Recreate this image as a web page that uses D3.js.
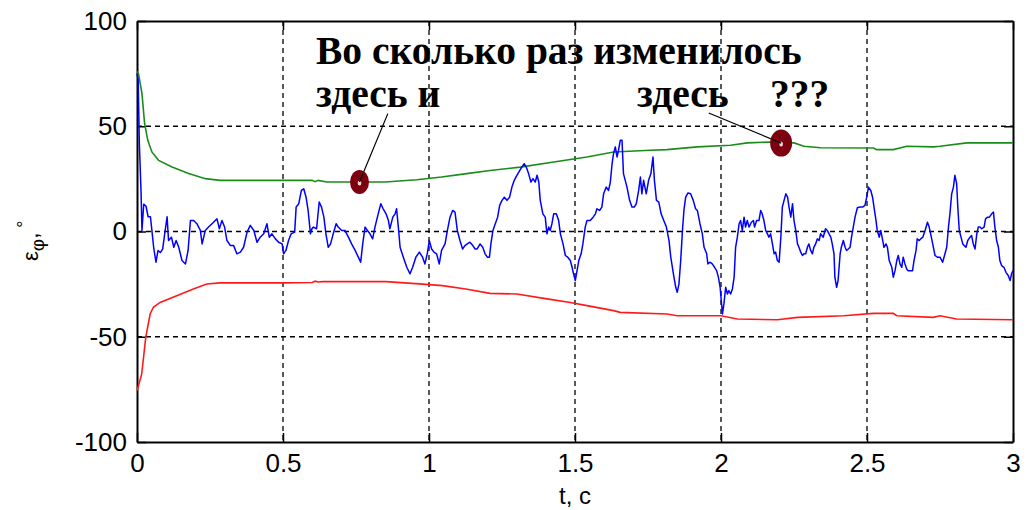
<!DOCTYPE html>
<html><head><meta charset="utf-8">
<script src="https://cdn.jsdelivr.net/npm/d3@7"></script>
<style>html,body{margin:0;padding:0;background:#fff;}svg{display:block;}</style>
</head><body>
<svg id="chart" width="1028" height="510"></svg>
<script>
// ---------------- data ----------------
const xTicks = [0, 0.5, 1, 1.5, 2, 2.5, 3];
const xTickLabels = ["0", "0.5", "1", "1.5", "2", "2.5", "3"];
const yTicks = [-100, -50, 0, 50, 100];
const yTickLabels = ["-100", "-50", "0", "50", "100"];
const xLabel = "t, c";
const annotLine1 = "Во сколько раз изменилось";
const annotLine2a = "здесь и";
const annotLine2b = "здесь";
const annotLine2c = "???";

// blue: error signal (t, value)
const blueSeries = [[0,75],[0.004,72],[0.008,42],[0.014,18],[0.017,0.5],[0.023,13],[0.031,12],[0.038,7],[0.046,7],[0.051,0.5],[0.057,-7.5],[0.065,-14.6],[0.072,-9],[0.080,-10],[0.088,-8.3],[0.095,-1],[0.103,7],[0.108,-4.3],[0.118,-2.7],[0.126,-7.5],[0.134,-4.3],[0.143,-7.5],[0.154,-13.8],[0.166,-15.4],[0.175,-9],[0.183,5.2],[0.194,5.2],[0.205,3.7],[0.217,0.5],[0.223,-5.9],[0.234,0.5],[0.245,2.1],[0.257,3.7],[0.268,5.2],[0.274,6],[0.282,1.3],[0.291,5.2],[0.300,2.1],[0.308,-4.3],[0.320,-6.7],[0.331,-6.7],[0.342,-10.6],[0.354,-9.8],[0.365,-7.5],[0.377,-0.3],[0.388,2.9],[0.400,0.5],[0.411,-5.1],[0.422,-2.7],[0.434,-1.1],[0.445,3.7],[0.453,-2.7],[0.462,-1.1],[0.474,-3.5],[0.485,-5.1],[0.497,-5.9],[0.502,-10.6],[0.510,-9],[0.519,-4.3],[0.528,-1.1],[0.540,-0.3],[0.545,11.6],[0.554,13.2],[0.563,19.5],[0.571,20.3],[0.579,16.3],[0.586,10],[0.594,-1.1],[0.599,1.3],
[0.604,2.1],[0.615,1.3],[0.624,14],[0.632,11.6],[0.640,6.8],[0.647,-1.1],[0.655,-7.5],[0.663,-5.9],[0.672,-1.1],[0.682,3.7],[0.689,2.1],[0.701,0.5],[0.712,0.5],[0.724,-2.7],[0.735,-5.9],[0.747,-9],[0.758,-12.2],[0.766,-14.6],[0.773,-5.9],[0.781,2.1],[0.789,0.5],[0.798,-1.1],[0.807,-3.5],[0.815,2.1],[0.826,8.4],[0.835,13.2],[0.843,10.8],[0.853,8.4],[0.861,5.2],[0.866,1.3],[0.876,6.8],[0.884,8.4],[0.889,10.8],[0.895,2.1],[0.901,-7.5],[0.912,-12.2],[0.924,-17],[0.935,-20.1],[0.944,-17],[0.955,-12.2],[0.967,-9.8],[0.978,-12.2],[0.986,-15.4],[0.994,-10.6],[1.001,-4.3],[1.009,-8.3],[1.017,-9.8],[1.026,-10.6],[1.035,-15.4],[1.043,-9],[1.055,-5.9],[1.063,0.5],[1.072,6.8],[1.081,10],[1.089,9.2],[1.097,0.5],[1.106,-4.3],[1.115,-8.3],[1.123,-6.7],[1.131,-5.9],[1.140,-5.1],[1.150,-6.7],[1.158,-8.3],[1.165,-8.3],[1.175,-5.9],[1.184,-7.5],[1.192,-10.6],[1.200,-12.2],[1.207,-12.2],
[1.212,-5.9],[1.219,0.5],[1.227,3.7],[1.235,6.8],[1.242,12.4],[1.250,14.8],[1.258,16.3],[1.267,14.8],[1.276,16.3],[1.284,21.1],[1.292,24.3],[1.301,26.7],[1.311,29],[1.318,30.6],[1.326,32.2],[1.333,30.6],[1.341,27.5],[1.349,23.5],[1.356,25.1],[1.364,23.5],[1.370,26.7],[1.376,23.5],[1.381,14.8],[1.390,8.4],[1.398,6.8],[1.404,-1.1],[1.410,2.1],[1.415,0.5],[1.421,3.7],[1.427,8.4],[1.436,8.4],[1.444,5.2],[1.450,-1.1],[1.459,-5.9],[1.467,-11.4],[1.475,-12.2],[1.484,-13.8],[1.490,-17],[1.495,-20.1],[1.501,-23.3],[1.507,-18.6],[1.513,-13.8],[1.521,-10.6],[1.527,-5.9],[1.535,2.1],[1.541,5.2],[1.552,5.2],[1.562,6.8],[1.570,8.4],[1.575,10.8],[1.584,10],[1.592,11.6],[1.598,17.9],[1.607,21.1],[1.615,19.5],[1.621,23.5],[1.627,32.2],[1.632,37],[1.638,40.2],[1.644,35.4],[1.649,38.6],[1.655,43.3],[1.661,43.3],[1.666,27.5],[1.672,24.3],[1.678,21.1],[1.687,14.8],[1.695,11.6],[1.703,11.6],[1.710,13.2],[1.718,19.5],[1.724,25.9],[1.729,17.9],[1.735,24.3],[1.744,17.9],[1.752,24.3],[1.760,27.5],[1.767,35.4],[1.772,24.3],[1.779,14.8],[1.787,14],[1.795,8.4],[1.804,5.2],
[1.813,2.1],[1.822,-4.3],[1.828,-12.2],[1.837,-20.1],[1.845,-26.5],[1.850,-28.9],[1.856,-24.9],[1.862,-13.8],[1.868,0.5],[1.873,10],[1.879,16.3],[1.887,18.3],[1.896,17.9],[1.905,14.8],[1.913,10.8],[1.919,10],[1.928,3.7],[1.936,-1.1],[1.942,-7.5],[1.951,-10.6],[1.955,-15.4],[1.962,-14.6],[1.970,-15.4],[1.978,-17],[1.985,-18.6],[1.991,-21.7],[1.997,-26.5],[2.001,-32.9],[2.005,-39.2],[2.010,-34.4],[2.016,-26.5],[2.022,-29.7],[2.027,-28.1],[2.033,-29.7],[2.039,-27.3],[2.045,-21.7],[2.050,-7.5],[2.056,-2.7],[2.062,3.7],[2.067,5.2],[2.073,0.5],[2.079,6.8],[2.084,2.1],[2.090,5.2],[2.096,2.1],[2.104,4.4],[2.111,5.2],[2.115,2.1],[2.122,5.2],[2.130,5.2],[2.136,10],[2.141,8.4],[2.147,5.2],[2.153,0.5],[2.159,-1.1],[2.164,-2.7],[2.170,-1.1],[2.176,-5.9],[2.182,-10.6],[2.187,-9.8],[2.193,-13.8],[2.199,-14.6],[2.205,-2.7],[2.210,11.6],[2.216,14.8],[2.222,17.9],[2.228,16.3],[2.233,11.6],[2.239,6.8],[2.245,13.2],[2.250,5.2],[2.256,0.5],[2.262,-5.9],[2.267,-7.5],[2.273,-9.8],[2.279,-11.4],[2.284,-10.6],[2.290,-10.6],[2.296,-7.5],[2.301,-5.9],[2.307,-9],[2.313,-10.6],[2.318,-7.5],[2.324,-5.9],[2.330,-3.5],[2.336,-4.3],[2.341,-1.1],[2.350,-2.7],[2.358,1.3],[2.364,0.5],[2.370,-1.1],[2.376,-2.7],[2.381,-5.9],[2.387,-10.6],[2.390,-21.7],[2.396,-26.5],[2.401,-23.3],[2.408,-10.6],[2.412,-7.5],[2.419,-4.3],
[2.425,-7.5],[2.430,-9],[2.436,-8.3],[2.442,-7.5],[2.447,-2.7],[2.453,2.1],[2.459,6.8],[2.467,11.3],[2.476,11.6],[2.485,11.6],[2.493,12.4],[2.499,16.3],[2.505,21.1],[2.513,19.5],[2.519,16.3],[2.524,11.6],[2.531,5.2],[2.535,0.5],[2.542,-2.7],[2.547,0.5],[2.554,-4.3],[2.558,-7.5],[2.565,-5.9],[2.570,-7.5],[2.576,-13.8],[2.585,-17],[2.590,-21.7],[2.596,-18.6],[2.602,-13.8],[2.607,-11.4],[2.613,-15.4],[2.619,-17],[2.624,-12.2],[2.630,-15.4],[2.636,-17.8],[2.641,-18.6],[2.656,-18.6],[2.661,-13.8],[2.668,-9],[2.672,-3.5],[2.679,-4.3],[2.684,-3.5],[2.691,-2.7],[2.699,0.5],[2.707,4.4],[2.713,2.1],[2.718,-1.1],[2.725,-5.9],[2.733,-11.4],[2.741,-12.2],[2.750,-12.2],[2.759,-14.6],[2.767,-10.6],[2.773,-7.5],[2.779,2.1],[2.784,8.4],[2.790,17.9],[2.796,21.1],[2.801,26.7],[2.807,22.7],[2.811,11.6],[2.816,0.5],[2.822,-2.7],[2.828,-5.9],[2.833,-6.7],[2.839,-7.5],[2.845,-4.3],[2.853,-2.7],[2.858,-1.9],[2.864,-5.9],[2.870,-8.3],[2.876,-1.1],[2.881,2.1],[2.887,2.1],[2.893,1.3],[2.901,2.1],[2.906,6],[2.912,6.8],[2.919,6.8],[2.927,8.4],[2.933,9.2],[2.938,2.1],[2.944,-4.3],[2.950,-7.5],[2.955,-13.8],[2.961,-16.2],[2.969,-17],[2.976,-19.4],[2.984,-21],[2.990,-23.3],[2.995,-20.1],[3.0,-18.6]];

// green: upper bound
const greenSeries = [[0,76],[0.005,75],[0.017,65.5],[0.026,51.3],[0.037,43.3],[0.051,37.8],[0.074,33.8],[0.120,30.6],[0.177,27.5],[0.234,25.1],[0.285,24.3],[0.5,24.3],[0.60,24.3],[0.61,23.7],[0.62,24.3],[0.65,23.5],[0.85,23.5],[0.958,24.6],[1.043,25.9],[1.129,27.5],[1.209,29],[1.313,30.6],[1.427,33],[1.541,35.4],[1.632,37.8],[1.758,38.6],[1.815,38.9],[1.919,40.2],[2.033,41],[2.090,42.1],[2.170,42.5],[2.250,42.1],[2.284,40.5],[2.341,39.8],[2.522,39.7],[2.533,38.9],[2.590,38.9],[2.636,40.5],[2.727,40.2],[2.750,40.5],[2.842,42.1],[3.0,42.1]];

// red: lower bound
const redSeries = [[0,-75.7],[0.016,-67.8],[0.030,-50.3],[0.045,-39.2],[0.056,-36],[0.079,-33.7],[0.136,-30.5],[0.193,-27.3],[0.239,-24.9],[0.284,-24.4],[0.501,-24.4],[0.60,-24.2],[0.61,-23.6],[0.62,-24.0],[0.638,-23.8],[0.853,-23.8],[0.967,-24.9],[1.046,-25.7],[1.126,-27.3],[1.209,-29.4],[1.301,-29.7],[1.404,-32],[1.484,-33.7],[1.541,-35.2],[1.632,-37.6],[1.655,-38.4],[1.815,-39.2],[1.850,-40],[2.0,-40],[2.056,-41.6],[2.193,-41.9],[2.262,-40.8],[2.421,-40],[2.522,-38.9],[2.590,-38.9],[2.602,-40],[2.727,-40.8],[2.750,-40],[2.807,-41.6],[3.0,-41.9]];

// annotation markers (t, value) and leader-line starts (t, value)
const markerPoints = [[0.762, 23.5], [2.206, 42]];
const leaderStarts = [[0.859, 56.0], [1.958, 56.3]];

// ---------------- drawing ----------------
const svg = d3.select("#chart");
const L = 137, R = 1013, T = 21, B = 442;
const x = d3.scaleLinear().domain([0, 3]).range([L, R]);
const y = d3.scaleLinear().domain([-100, 100]).range([B, T]);

const fontSans = "Arial, 'Liberation Sans', sans-serif";
const fontSerif = "'Times New Roman', 'Liberation Serif', serif";

// grid
const grid = svg.append("g");
grid.selectAll("line.vg").data(xTicks.filter(d => d > 0 && d < 3)).join("line")
  .attr("x1", d => x(d)).attr("x2", d => x(d)).attr("y1", T).attr("y2", B)
  .attr("stroke", "#000").attr("stroke-width", 1.3).attr("stroke-dasharray", "5,4");
grid.selectAll("line.hg").data(yTicks.filter(d => d > -100 && d < 100)).join("line")
  .attr("x1", L).attr("x2", R).attr("y1", d => y(d)).attr("y2", d => y(d))
  .attr("stroke", "#000").attr("stroke-width", 1.3).attr("stroke-dasharray", "5,4");

// axes via d3 with inner ticks
const axB = d3.axisBottom(x).tickValues(xTicks).tickFormat((d, i) => xTickLabels[i]).tickSizeInner(-9).tickSizeOuter(0).tickPadding(12);
const axT = d3.axisTop(x).tickValues(xTicks).tickFormat("").tickSizeInner(-9).tickSizeOuter(0);
const axLft = d3.axisLeft(y).tickValues(yTicks).tickFormat((d, i) => yTickLabels[i]).tickSizeInner(-9).tickSizeOuter(0).tickPadding(10);
const axRgt = d3.axisRight(y).tickValues(yTicks).tickFormat("").tickSizeInner(-9).tickSizeOuter(0);

function styleAxis(g) {
  g.select(".domain").attr("stroke", "#000").attr("stroke-width", 2);
  g.selectAll(".tick line").attr("stroke", "#000").attr("stroke-width", 1.5);
  g.selectAll(".tick text").attr("fill", "#000").style("font-family", fontSans).style("font-size", "26px");
}
svg.append("g").attr("transform", `translate(0,${B})`).call(axB).call(styleAxis)
  .selectAll(".tick text").attr("dy", "0.71em");
svg.append("g").attr("transform", `translate(0,${T})`).call(axT).call(styleAxis);
svg.append("g").attr("transform", `translate(${L},0)`).call(axLft).call(styleAxis);
svg.append("g").attr("transform", `translate(${R},0)`).call(axRgt).call(styleAxis);

// series
const line = d3.line().x(d => x(d[0])).y(d => y(d[1]));
svg.append("path").datum(greenSeries).attr("d", line).attr("fill", "none").attr("stroke", "#1a8c1a").attr("stroke-width", 1.6);
svg.append("path").datum(redSeries).attr("d", line).attr("fill", "none").attr("stroke", "#ff1a1a").attr("stroke-width", 1.6);
svg.append("path").datum(blueSeries).attr("d", line).attr("fill", "none").attr("stroke", "#0000ff").attr("stroke-width", 1.5).attr("stroke-linejoin", "round");

// annotations
const ann = svg.append("g");
ann.selectAll("line.lead").data(markerPoints).join("line")
  .attr("x1", (d, i) => x(leaderStarts[i][0])).attr("y1", (d, i) => y(leaderStarts[i][1]))
  .attr("x2", d => x(d[0])).attr("y2", d => y(d[1]))
  .attr("stroke", "#000").attr("stroke-width", 1.2);
const rx = [9.5, 11], ry = [12, 13.5];
ann.selectAll("ellipse.mk").data(markerPoints).join("ellipse")
  .attr("cx", d => x(d[0])).attr("cy", d => y(d[1]))
  .attr("rx", (d, i) => rx[i]).attr("ry", (d, i) => ry[i])
  .attr("fill", "#7d0010");
ann.selectAll("ellipse.dot").data(markerPoints).join("ellipse")
  .attr("cx", d => x(d[0])).attr("cy", d => y(d[1]) + 1)
  .attr("rx", 1.8).attr("ry", 2.5).attr("fill", "#f3d6d6");
ann.selectAll("line.tip").data(markerPoints).join("line")
  .attr("x1", (d, i) => { const s = leaderStarts[i]; return x(d[0]) + (x(s[0]) - x(d[0])) * 0.12; })
  .attr("y1", (d, i) => { const s = leaderStarts[i]; return y(d[1]) + (y(s[1]) - y(d[1])) * 0.12; })
  .attr("x2", d => x(d[0])).attr("y2", d => y(d[1]))
  .attr("stroke", "#000").attr("stroke-width", 1.2);

const tStyle = t => t.attr("fill", "#000").style("font-family", fontSerif).style("font-weight", "bold").style("font-size", "39.5px");
ann.append("text").attr("x", 316).attr("y", 64).text(annotLine1).call(tStyle);
ann.append("text").attr("x", 316).attr("y", 107).text(annotLine2a).call(tStyle);
ann.append("text").attr("x", 637).attr("y", 107).text(annotLine2b).call(tStyle);
ann.append("text").attr("x", 770).attr("y", 107).text(annotLine2c).call(tStyle);

// axis labels
svg.append("text").attr("x", (L + R) / 2).attr("y", 504).attr("text-anchor", "middle")
  .style("font-family", fontSans).style("font-size", "24px").attr("fill", "#000").text(xLabel);

const yl = svg.append("text").attr("transform", "translate(38,261) rotate(-90)")
  .style("font-family", fontSans).style("font-size", "22px").attr("fill", "#000");
yl.append("tspan").text("ε");
yl.append("tspan").attr("dy", 6).style("font-size", "19px").text("φ");
yl.append("tspan").attr("dy", -6).text(",");
yl.append("tspan").attr("dy", -8).style("font-size", "18px").text(" °");
</script>
</body></html>
